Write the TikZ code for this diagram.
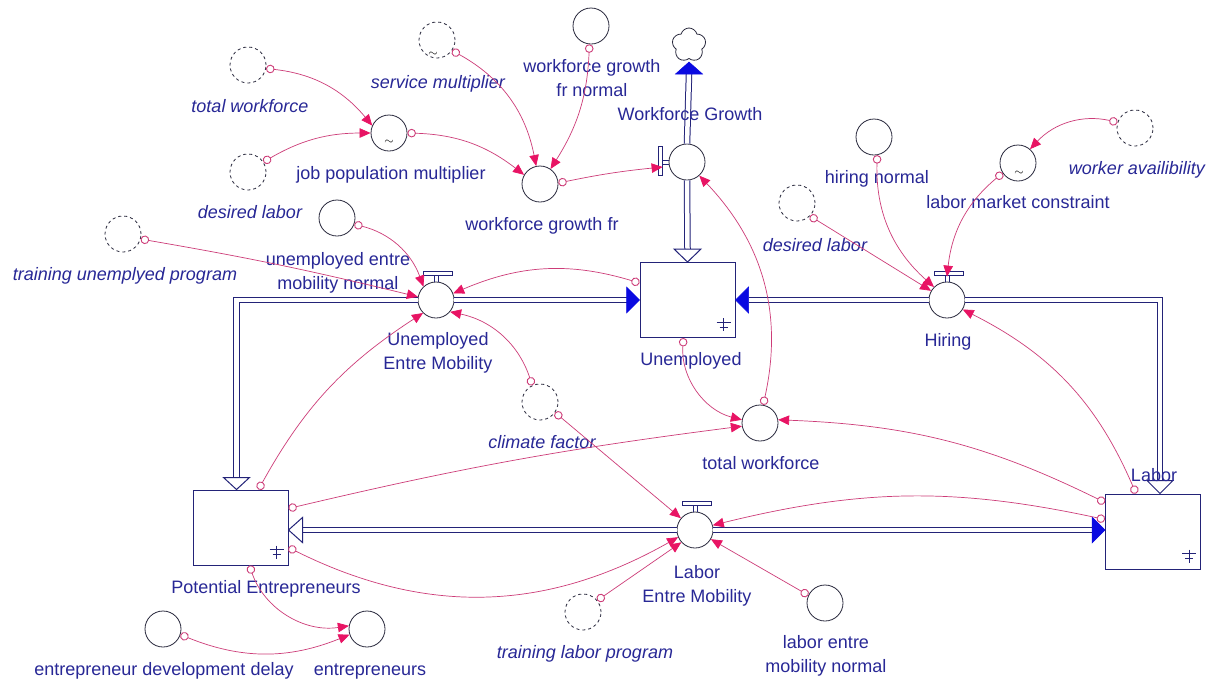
\documentclass[tikz,border=0pt]{standalone}
\usepackage{fontspec}
\setmainfont{Liberation Sans}
\usetikzlibrary{arrows.meta,calc,shapes.symbols}
\definecolor{tblue}{RGB}{40,40,150}
\definecolor{navy}{RGB}{35,35,120}
\definecolor{infc}{RGB}{205,60,120}
\definecolor{infa}{RGB}{232,20,100}
\definecolor{vblue}{RGB}{10,10,225}
\definecolor{auxc}{RGB}{40,40,60}
\newcommand\lblf{\fontsize{18}{24}\selectfont}
\tikzset{
  aux/.style={circle,draw=auxc,line width=0.8pt,minimum size=36pt,inner sep=0pt,fill=white},
  ghost/.style={aux,dash pattern=on 3pt off 3pt},
  stock/.style={rectangle,draw=navy,line width=1pt,minimum width=95pt,minimum height=75pt,inner sep=0pt,fill=white},
  lbl/.style={text=tblue,font=\lblf,align=center,inner sep=0pt,anchor=base},
  ilbl/.style={lbl,font=\lblf\itshape},
  mlbl/.style={text=tblue,font=\lblf,align=center,inner sep=0pt,anchor=north},
  infl/.style={draw=infc,line width=0.7pt,arrows={Circle[open,length=8.5pt,width=8.5pt,line width=0.9pt]-Triangle[length=11pt,width=9.5pt,color=infa]}},
  pipe/.style={draw=navy,line width=1pt,double=white,double distance=4.5pt},
  hollowtri/.style={draw=navy,line width=1pt,fill=white,line join=miter},
  vtri/.style={fill=vblue,draw=vblue,line width=0.5pt},
  valvebar/.style={draw=navy,line width=0.9pt,fill=white},
  tilde/.style={text=black,font=\fontsize{13}{13}\selectfont,inner sep=0pt},
  vhandle/.pic={\draw[valvebar] (-13,25) rectangle (16,28.5);
                \draw[navy,line width=0.9pt] (-2,18)--(-2,25) (2,18)--(2,25);},
  gnd/.pic={\draw[navy,line width=1pt] (0,6)--(0,-7) (-7,2)--(7,2) (-4,-3)--(4,-3);}
}
\begin{document}
\begin{tikzpicture}[x=1pt,y=1pt]
\useasboundingbox (0,0) rectangle (1215,-681);
\fill[white] (0,0) rectangle (1215,-681);

\coordinate (wgc) at (687,-162);
\coordinate (uemc) at (436,-300);
\coordinate (hc) at (947,-300);
\coordinate (lemc) at (695,-530);

% nodes
\node[ghost] (twg) at (248,-65) {};
\node[aux] (jpm) at (389,-133) {};
\node[ghost] (dlg) at (248,-172) {};
\node[ghost] (smg) at (437,-40) {};
\node[aux] (wgfn) at (591,-26) {};
\node[aux] (wgf) at (540,-184) {};
\node[aux] (umn) at (337,-218) {};
\node[ghost] (tup) at (123,-234) {};
\node[stock] (U) at (687.5,-300) {};
\node[aux] (hn) at (874,-137) {};
\node[aux] (lmc) at (1018,-163) {};
\node[ghost] (wa) at (1135,-128) {};
\node[ghost] (dl2) at (797,-203) {};
\node[ghost] (cf) at (540,-402) {};
\node[aux] (tw) at (760,-423) {};
\node[stock] (PE) at (240.5,-527.5) {};
\node[stock] (L) at (1153,-531.5) {};
\node[ghost] (tlp) at (583,-612) {};
\node[aux] (lemn) at (825,-603) {};
\node[aux] (edd) at (163,-629) {};
\node[aux] (ent) at (367,-629) {};
\node[cloud,cloud puffs=5,draw=auxc,line width=0.8pt,aspect=1,minimum width=34pt,minimum height=34pt,inner sep=0pt,fill=white] (cl) at (689,-45) {};

% valves
\node[aux] (WG) at (wgc) {};
\node[aux] (UEM) at (uemc) {};
\node[aux] (H) at (hc) {};
\node[aux] (LEM) at (lemc) {};

% pipes
\draw[pipe] (WG.north) -- ([yshift=-15pt]cl.south);
\fill[vtri] ([yshift=-3pt]cl.south) -- ++(-13.5,-12) -- ++(27,0) -- cycle;
\draw[pipe] (WG.south) -- ($(U.north)+(0,13)$);
\draw[hollowtri] (U.north) -- ++(-13.5,13) -- ++(27,0) -- cycle;

\draw[pipe] (UEM.east) -- ($(U.west)+(-13,0)$);
\fill[vtri] (U.west) -- ++(-13,13) -- ++(0,-26) -- cycle;
\draw[pipe] (H.west) -- ($(U.east)+(13,0)$);
\fill[vtri] (U.east) -- ++(13,13) -- ++(0,-26) -- cycle;
\draw[pipe] (H.east) -| ($(L.north)+(7,13)$);
\draw[hollowtri] ($(L.north)+(7,0)$) -- ++(-13,13) -- ++(26,0) -- cycle;
\draw[pipe] (UEM.west) -| ($(PE.north)+(-4,12)$);
\draw[hollowtri] ($(PE.north)+(-4,0)$) -- ++(-13,12) -- ++(26,0) -- cycle;
\draw[pipe] (LEM.west) -- ($(LEM.west -| PE.east)+(14,0)$);
\draw[hollowtri] (LEM.west -| PE.east) -- ++(14,12.5) -- ++(0,-25) -- cycle;
\draw[pipe] (LEM.east) -- ($(LEM.east -| L.west)+(-13,0)$);
\fill[vtri] (LEM.east -| L.west) -- ++(-13,13) -- ++(0,-26) -- cycle;

% valve handles
\pic at (UEM) {vhandle};
\pic at (H) {vhandle};
\pic at (LEM) {vhandle};
\pic[rotate=90] at (WG) {vhandle};

% stock symbols
\pic at ($(U.south east)+(-12,14)$) {gnd};
\pic at ($(PE.south east)+(-12,14)$) {gnd};
\pic at ($(L.south east)+(-12,14)$) {gnd};

% tildes
\node[tilde] (jpmt) at ($(jpm)+(0,-9)$) {$\sim$};
\node[tilde] (lmct) at ($(lmc)+(1,-10)$) {$\sim$};
\node[tilde] (smt) at ($(smg)+(-4,-14)$) {$\sim$};

% labels
\node[ilbl] (ltwg) at (250,-112) {total workforce};
\node[lbl] (ljpm) at (391,-179) {job population multiplier};
\node[ilbl] (ldlg) at (250,-218) {desired labor};
\node[ilbl] (lsm) at (438,-88) {service multiplier};
\node[mlbl] (lwgfn) at (592,-59) {workforce growth\\fr normal};
\node[lbl] (lwgf) at (542,-230) {workforce growth fr};
\node[lbl] (lWG) at (690,-120) {Workforce Growth};
\node[lbl] (lhn) at (877,-183) {hiring normal};
\node[lbl] (llmc) at (1018,-208) {labor market constraint};
\node[ilbl] (lwa) at (1137,-174) {worker availibility};
\node[ilbl] (ldl2) at (815,-251) {desired labor};
\node[mlbl] (lumn) at (338,-252) {unemployed entre\\mobility normal};
\node[ilbl] (ltup) at (125,-280) {training unemplyed program};
\node[mlbl] (lUEM) at (438,-332) {Unemployed\\Entre Mobility};
\node[lbl] (lU) at (691,-365) {Unemployed};
\node[lbl] (lH) at (948,-346) {Hiring};
\node[ilbl] (lcf) at (542,-448) {climate factor};
\node[lbl] (ltw) at (761,-469) {total workforce};
\node[lbl] (lL) at (1154,-481) {Labor};
\node[lbl] (lPE) at (266,-593) {Potential Entrepreneurs};
\node[mlbl] (lLEM) at (697,-565) {Labor\\Entre Mobility};
\node[ilbl] (ltlp) at (585,-658) {training labor program};
\node[mlbl] (llemn) at (826,-635) {labor entre\\mobility normal};
\node[lbl] (ledd) at (164,-675) {entrepreneur development delay};
\node[lbl] (lent) at (370,-675) {entrepreneurs};

% influences
\draw[infl] (twg.-11) to[bend left=22] (jpm.156);
\draw[infl] (dlg.33) to[bend left=15] (jpm.180);
\draw[infl] (jpm.0) to[bend left=18] (wgf.150);
\draw[infl] (smg.-35) to[bend left=25] (wgf.102);
\draw[infl] (wgfn.-95) to[bend left=15] (wgf.55);
\draw[infl] (wgf.3) to[bend left=3] ([shift={(-6pt,-5pt)}]WG.west);
\draw[infl] (tw.80) to[bend right=28] (WG.-48);
\draw[infl] (umn.-20) to[bend left=28] (UEM.133);
\draw[infl] (tup.-16) to[bend left=2] (UEM.170);
\draw[infl] ([yshift=17pt]U.west) to[bend right=20] (UEM.21);
\draw[infl] ([xshift=18pt]PE.north) to[bend left=14] (UEM.225);
\draw[infl] (cf.115) to[bend right=30] (UEM.-40);
\draw[infl] (cf.-35) -- (LEM.140);
\draw[infl] ([xshift=-4pt]U.south) to[bend right=40] (tw.170);
\draw[infl] ([yshift=19pt]PE.east) to[bend left=3] (tw.190);
\draw[infl] ([yshift=29pt]L.west) to[bend right=12] (tw.10);
\draw[infl] ([yshift=12pt]L.west) to[bend right=13] (LEM.15);
\draw[infl] ([yshift=-20pt]PE.east) to[bend right=28] (LEM.203);
\draw[infl] (tlp.39) -- (LEM.222);
\draw[infl] (lemn.155) -- (LEM.-30);
\draw[infl] ([xshift=9pt]PE.south) to[bend right=40] (ent.170);
\draw[infl] (edd.-18) to[bend right=22] (ent.198);
\draw[infl] (hn.-80) to[bend right=25] (H.135);
\draw[infl] (dl2.-45) -- (H.150);
\draw[infl] (lmc.213) to[bend right=22] ([yshift=5pt]H.north);
\draw[infl] (wa.162) to[bend right=30] (lmc.49);
\draw[infl] ([xshift=-17pt]L.north) to[bend right=20] (H.-31);
\end{tikzpicture}
\end{document}
